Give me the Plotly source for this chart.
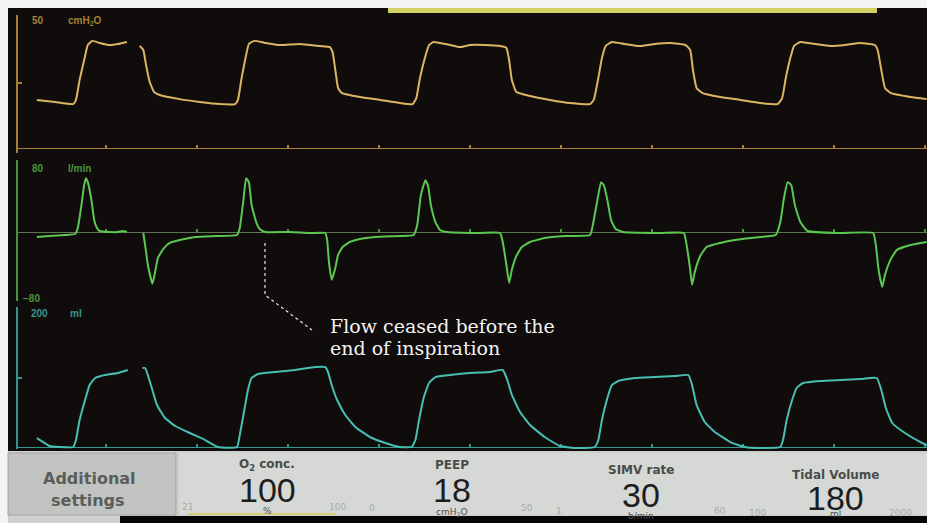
import plotly.graph_objects as go

W, H = 927, 523

# ventilator sweep, time in seconds (gap = erase bar of the sweep)
pressure_t = [0.24, 0.44, 0.64, 0.67, 0.71, 0.76, 0.80, 0.85, 0.93, 1.04, 1.13, 1.23, 1.30,
              1.37, 1.41, 1.44, 1.48, 1.53, 1.59, 1.81, 2.03, 2.25, 2.42, 2.45, 2.49, 2.54, 2.57,
              2.63, 2.75, 2.91, 3.13, 3.35, 3.46, 3.49, 3.52, 3.55, 3.59, 3.79, 4.01, 4.23, 4.37,
              4.41, 4.45, 4.51, 4.55, 4.60, 4.73, 4.89, 5.00, 5.16, 5.33, 5.40, 5.43, 5.46, 5.51,
              5.66, 5.88, 6.10, 6.32, 6.36, 6.41, 6.45, 6.49, 6.56, 6.70, 6.87, 7.03, 7.20, 7.37,
              7.42, 7.45, 7.49, 7.55, 7.75, 7.97, 8.19, 8.38, 8.43, 8.47, 8.52, 8.56, 8.63, 8.79,
              8.96, 9.12, 9.29, 9.45, 9.48, 9.52, 9.56, 9.62, 9.84, 10.02]
pressure_cmh2o = [18.5, 17.7, 16.9, 18.5, 26.2, 33.8, 39.6, 41.2, 40.4, 39.6, 40.0, 40.8, None,
                  39.2, 37.7, 31.9, 25.4, 21.5, 20.4, 18.8, 17.7, 16.9, 16.9, 18.5, 26.9, 35.8, 40.0,
                  41.2, 40.4, 39.6, 40.0, 39.2, 38.8, 36.9, 30.0, 23.1, 21.2, 19.6, 18.5, 17.3, 16.9,
                  19.2, 26.9, 35.4, 39.6, 40.8, 40.0, 38.8, 39.6, 39.6, 39.2, 38.5, 33.8, 26.2, 21.5,
                  20.0, 18.5, 17.3, 16.9, 18.5, 26.9, 34.6, 39.2, 40.8, 40.0, 39.2, 40.0, 40.4, 39.6,
                  37.7, 30.0, 23.1, 21.2, 19.6, 18.5, 17.3, 16.9, 19.2, 26.9, 34.6, 39.2, 40.8, 40.0,
                  39.2, 39.6, 40.4, 39.6, 37.7, 30.0, 23.1, 21.2, 19.6, 18.8]

flow_t = [0.24, 0.38, 0.55, 0.66, 0.69, 0.73, 0.76, 0.78, 0.80, 0.84, 0.87, 0.90, 0.93, 1.04,
          1.13, 1.18, 1.23, 1.30,
          1.41, 1.43, 1.46, 1.51, 1.54, 1.57, 1.63, 1.70, 1.81, 1.98, 2.20, 2.44, 2.47, 2.51,
          2.54, 2.57, 2.60, 2.65, 2.69, 2.75, 3.02, 3.24, 3.41, 3.43, 3.45, 3.48, 3.52, 3.55,
          3.60, 3.68, 3.79, 3.96, 4.23, 4.38, 4.42, 4.46, 4.51, 4.54, 4.57, 4.62, 4.67, 4.75,
          5.11, 5.33, 5.36, 5.40, 5.43, 5.46, 5.51, 5.57, 5.66, 5.82, 6.04, 6.32, 6.35, 6.40,
          6.44, 6.47, 6.51, 6.55, 6.60, 6.68, 7.09, 7.35, 7.38, 7.42, 7.44, 7.47, 7.53, 7.60,
          7.75, 7.91, 8.19, 8.36, 8.41, 8.45, 8.49, 8.53, 8.57, 8.63, 8.71, 9.07, 9.43, 9.46,
          9.49, 9.53, 9.56, 9.62, 9.69, 9.84, 10.02]
flow_lpm = [-6.0, -4.8, -3.6, -2.4, 4.8, 32.1, 56.0, 64.3, 59.5, 38.1, 14.3, 4.8, 1.2, 0.0,
            0.0, 1.2, 0.0, None,
            -1.2, -15.5, -39.3, -61.9, -47.6, -31.0, -20.2, -13.1, -9.5, -6.0, -4.8, -3.6, 4.8, 38.1,
            64.3, 59.5, 32.1, 11.9, 3.6, 0.0, 0.0, -1.2, -1.2, -9.5, -35.7, -57.1, -42.9, -27.4,
            -17.9, -11.9, -8.3, -6.0, -4.8, -3.6, 8.3, 44.0, 61.9, 54.8, 32.1, 11.9, 2.4, 0.0,
            -1.2, -1.2, -11.9, -39.3, -60.7, -45.2, -28.6, -17.9, -11.9, -7.1, -4.8, -3.6, 8.3, 38.1,
            59.5, 56.0, 38.1, 14.3, 3.6, 0.0, -1.2, -1.2, -15.5, -45.2, -63.1, -47.6, -28.6, -17.9,
            -13.1, -9.5, -6.0, -3.6, 11.9, 40.5, 59.5, 56.0, 32.1, 11.9, 1.2, -1.2, -1.2, -15.5,
            -45.2, -65.5, -51.2, -33.3, -21.4, -15.5, -11.9]

volume_t = [0.24, 0.31, 0.38, 0.49, 0.64, 0.67, 0.71, 0.77, 0.82, 0.88, 0.99, 1.13, 1.24, 1.32,
            1.40, 1.43, 1.46, 1.51, 1.56, 1.65, 1.76, 1.92, 2.09, 2.23, 2.44, 2.47, 2.52, 2.56,
            2.60, 2.67, 2.86, 3.08, 3.30, 3.41, 3.44, 3.48, 3.54, 3.63, 3.74, 3.90, 4.07, 4.23,
            4.36, 4.40, 4.44, 4.49, 4.55, 4.62, 4.78, 5.00, 5.22, 5.36, 5.41, 5.46, 5.55, 5.66,
            5.82, 5.99, 6.15, 6.37, 6.41, 6.45, 6.51, 6.56, 6.63, 6.81, 7.03, 7.25, 7.40, 7.44,
            7.49, 7.58, 7.69, 7.86, 8.02, 8.19, 8.41, 8.44, 8.48, 8.54, 8.59, 8.66, 8.85, 9.07,
            9.29, 9.47, 9.52, 9.57, 9.64, 9.78, 9.95, 10.02]
volume_ml = [13.0, 7.2, 1.4, 0.0, 0.0, 10.1, 39.1, 68.1, 89.9, 100.0, 104.3, 107.2, 111.6, None,
             114.5, 114.5, 104.3, 82.6, 60.9, 42.0, 30.4, 20.3, 10.1, 0.0, 0.0, 17.4, 53.6, 82.6,
             100.0, 105.8, 108.7, 111.6, 115.9, 115.9, 108.7, 89.9, 68.1, 46.4, 29.0, 14.5, 5.8, 0.0,
             0.0, 10.1, 39.1, 71.0, 92.8, 101.4, 104.3, 107.2, 108.7, 111.6, 97.1, 75.4, 50.7, 31.9,
             14.5, 1.4, -1.4, 0.0, 10.1, 39.1, 71.0, 89.9, 95.7, 100.0, 101.4, 102.9, 104.3, 89.9,
             60.9, 36.2, 21.7, 7.2, 0.0, -1.4, 0.0, 10.1, 39.1, 68.1, 85.5, 92.8, 95.7, 97.1,
             98.6, 100.0, 82.6, 56.5, 34.8, 20.3, 7.2, 2.9]

setting_names = ["O<sub>2</sub> conc.", "PEEP", "SIMV rate", "Tidal Volume"]
setting_values = ["100", "18", "30", "180"]
setting_units = ["%", "cmH<sub>2</sub>O", "b/min", "ml"]
setting_min = ["21", "0", "1", "100"]
setting_max = ["100", "50", "60", "2000"]


def px(x):
    return x / W


def py(y):
    return 1 - y / H


def val_range(top_px, bot_px, v0, v0_px, v1, v1_px):
    k = (v1 - v0) / (v0_px - v1_px)
    return [v0 + (v0_px - bot_px) * k, v0 + (v0_px - top_px) * k]


P_COL, F_COL, V_COL = "#dcb562", "#5cc852", "#48bfb3"
P_DIM, F_DIM, V_DIM = "#a97f38", "#4a9440", "#33978e"
BG = "#0f0c0b"

fig = go.Figure()
for t, v, ax, col in [(pressure_t, pressure_cmh2o, "", P_COL),
                      (flow_t, flow_lpm, "2", F_COL),
                      (volume_t, volume_ml, "3", V_COL)]:
    fig.add_trace(go.Scatter(x=t, y=v, xaxis="x" + ax, yaxis="y" + ax, mode="lines",
                             line=dict(color=col, width=2, shape="spline", smoothing=0.4),
                             connectgaps=False, hoverinfo="skip"))

x_range = [(18 - 15) / 91, (W - 15) / 91]
x_common = dict(range=x_range, domain=[px(18), 1], showgrid=False, zeroline=False,
                showticklabels=False, showline=True, linewidth=1, ticks="inside",
                ticklen=3, tickwidth=2, tick0=0, dtick=1, anchor="free", layer="below traces")
y_common = dict(showgrid=False, zeroline=False, showticklabels=False, showline=True,
                linewidth=2, ticks="inside", ticklen=4, tickwidth=2, layer="below traces")

p_rng = val_range(15, 153, 0, 148, 50, 18)
f_rng = val_range(160, 301, 0, 232, 80, 165)
v_rng = val_range(307, 449, 0, 447, 200, 309)

fig.update_layout(
    width=W, height=H, margin=dict(l=0, r=0, t=0, b=0),
    paper_bgcolor=BG, plot_bgcolor="rgba(0,0,0,0)", showlegend=False,
    xaxis=dict(x_common, position=py(148), linecolor=P_DIM, tickcolor=P_DIM),
    xaxis2=dict(x_common, position=py(232), linecolor="#5d7553", tickcolor=F_DIM),
    xaxis3=dict(x_common, position=py(447), linecolor=V_DIM, tickcolor=V_DIM),
    yaxis=dict(y_common, anchor="x", domain=[py(153), py(15)], range=p_rng,
               tickvals=[p_rng[0] + 0.3, 25, p_rng[1] - 0.3], linecolor=P_DIM, tickcolor=P_DIM),
    yaxis2=dict(y_common, anchor="x2", domain=[py(301), py(160)], range=f_rng,
                tickvals=[f_rng[0] + 0.5, f_rng[1] - 0.5], linecolor=F_DIM, tickcolor=F_DIM),
    yaxis3=dict(y_common, anchor="x3", domain=[py(449), py(307)], range=v_rng,
                tickvals=[v_rng[0] + 0.5, 100, v_rng[1] - 0.5], linecolor=V_DIM, tickcolor=V_DIM),
)

shapes = []


def rect(x0, y0, x1, y1, color, line=None):
    shapes.append(dict(type="rect", xref="paper", yref="paper", x0=px(x0), x1=px(x1),
                       y0=py(y1), y1=py(y0), fillcolor=color, layer="below",
                       line=dict(width=1 if line else 0, color=line or color)))


# photo frame pieces
rect(0, 0, W, 8, "#f4f4f4")
rect(0, 0, 8, H, "#f4f4f4")
rect(388, 8, 877, 13, "#d2cf63")
# settings bar
rect(8, 451, W, 516, "#cdd0cd")
rect(8, 453, 176, 515, "#c1c4c1", "#a3a6a3")
rect(179, 453, W, 515, "#d5d8d5")
rect(8, 516, 120, H, "#cfd1cf")
rect(120, 516, W, H, "#050505")
shapes.append(dict(type="line", xref="paper", yref="paper", x0=px(187), x1=px(335),
                   y0=py(514), y1=py(514), line=dict(color="#d8cc78", width=2)))
# callout
shapes.append(dict(type="path", xref="paper", yref="paper",
                   path=f"M {px(265)},{py(243)} L {px(265)},{py(295)} L {px(312)},{py(330)}",
                   line=dict(color="#e8e8e8", width=1.2, dash="dot")))
fig.update_layout(shapes=shapes)

ann = []


def text(x, y, s, size, color, family="Liberation Sans", xanchor="center", weight="normal"):
    ann.append(dict(x=px(x), y=py(y), xref="paper", yref="paper", text=s, showarrow=False,
                    xanchor=xanchor, yanchor="middle",
                    font=dict(size=size, color=color, family=family, weight=weight)))


# panel scale labels
text(30, 21, "50", 10, P_DIM, xanchor="left", weight="bold")
text(66, 21, "cmH<sub>2</sub>O", 10, P_DIM, xanchor="left", weight="bold")
text(30, 168, "80", 10, F_DIM, xanchor="left", weight="bold")
text(66, 168, "l/min", 10, F_DIM, xanchor="left", weight="bold")
text(21, 298, "\u221280", 10, F_DIM, xanchor="left", weight="bold")
text(29, 313, "200", 10, V_DIM, xanchor="left", weight="bold")
text(68, 313, "ml", 10, V_DIM, xanchor="left", weight="bold")

# callout text
text(328, 326, "Flow ceased before the", 19, "#f2f2f2", family="DejaVu Serif", xanchor="left")
text(328, 348, "end of inspiration", 19, "#f2f2f2", family="DejaVu Serif", xanchor="left")

# settings bar
text(89, 478, "Additional", 16, "#5b5d5b", family="DejaVu Sans", weight="bold")
text(88, 500, "settings", 16, "#5b5d5b", family="DejaVu Sans", weight="bold")

centers = [267, 452, 641, 835]
name_y = [465, 465, 470, 475]
value_y = [490, 490, 495, 498]
unit_y = [511, 512, 516, 514]
min_x = [187, 372, 559, 757]
max_x = [337, 527, 720, 900]
scale_y = [507, 508, 511, 513]
for i in range(4):
    text(centers[i], name_y[i], setting_names[i], 12, "#4a4c4a", family="DejaVu Sans", weight="bold")
    text(centers[i], value_y[i], setting_values[i], 34, "#1c1d1c", family="Liberation Sans")
    text(centers[i], unit_y[i], setting_units[i], 9, "#4f514f", family="DejaVu Sans")
    text(min_x[i], scale_y[i], setting_min[i], 9, "#a8aba8", family="DejaVu Sans")
    text(max_x[i], scale_y[i], setting_max[i], 9, "#a8aba8", family="DejaVu Sans")

fig.update_layout(annotations=ann)
fig.write_html("out.html", config=dict(displayModeBar=False),
               post_script="document.body.style.margin='0';document.body.style.overflow='hidden';")
